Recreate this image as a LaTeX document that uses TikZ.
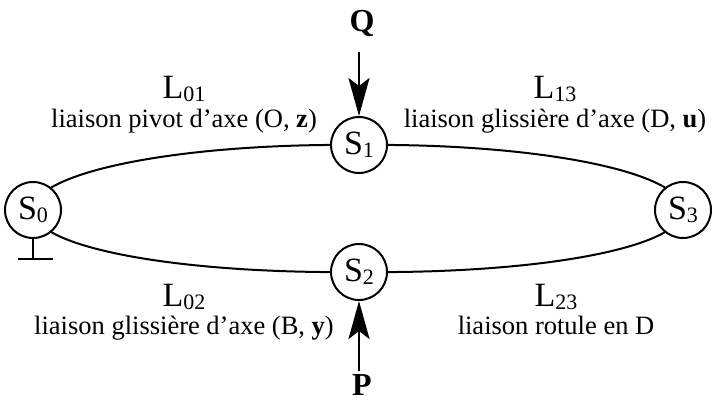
\documentclass[tikz,border=0pt]{standalone}
\usepackage{fontspec}
\setmainfont{Liberation Serif}
\usetikzlibrary{arrows.meta}
\newcommand{\sublbl}[2]{{\fontsize{34}{36}\selectfont #1}\raisebox{-3pt}{\fontsize{22}{24}\selectfont #2}}
\begin{document}
\begin{tikzpicture}[x=1pt,y=-1pt,
  body/.style={circle,draw,line width=2pt,fill=white,minimum size=56pt,inner sep=0pt},
  link/.style={line width=2pt},
  force/.style={line width=2.7pt,-{Stealth[length=38pt,width=21pt,inset=8pt]}},
  lname/.style={anchor=base,inner sep=0pt},
  ltext/.style={anchor=base,inner sep=0pt,font=\fontsize{26.5}{28}\selectfont},
  fname/.style={inner sep=0pt,font=\fontsize{32}{34}\selectfont\bfseries}]
\useasboundingbox (0,0) rectangle (718,404);
\coordinate (c0) at (33,210);
\coordinate (c1) at (359,145);
\coordinate (c2) at (359,272);
\coordinate (c3) at (683,210);
\draw[link] (c0) .. controls (33,172) and (180,143) .. (c1);
\draw[link] (c1) .. controls (538,143) and (683,172) .. (c3);
\draw[link] (c0) .. controls (33,248) and (180,274) .. (c2);
\draw[link] (c2) .. controls (538,274) and (683,248) .. (c3);
\node[body] (S0) at (c0) {\sublbl{S}{0}};
\node[body] (S1) at (c1) {\sublbl{S}{1}};
\node[body] (S2) at (c2) {\sublbl{S}{2}};
\node[body] (S3) at (c3) {\sublbl{S}{3}};
% ground
\coordinate (g) at (33,259);
\coordinate (gl) at (18,259);
\coordinate (gr) at (53,259);
\draw[link] (S0.south) -- (g);
\draw[link] (gl) -- (gr);
% forces
\node[fname] (Q) at (362,24) {Q};
\node[fname] (P) at (362,385) {P};
\coordinate (qs) at (359,52);
\coordinate (ps) at (359,371);
\draw[force] (qs) -- (S1.north);
\draw[force] (ps) -- (S2.south);
% labels
\node[lname] (L01) at (184,99) {\sublbl{L}{01}};
\node[ltext] (T01) at (184,127) {liaison pivot d’axe (O, \textbf{z})};
\node[lname] (L13) at (555,99) {\sublbl{L}{13}};
\node[ltext] (T13) at (555,127) {liaison glissière d’axe (D, \textbf{u})};
\node[lname] (L02) at (184,306) {\sublbl{L}{02}};
\node[ltext] (T02) at (184,334) {liaison glissière d’axe (B, \textbf{y})};
\node[lname] (L23) at (556,306) {\sublbl{L}{23}};
\node[ltext] (T23) at (556,334) {liaison rotule en D};
\end{tikzpicture}
\end{document}
